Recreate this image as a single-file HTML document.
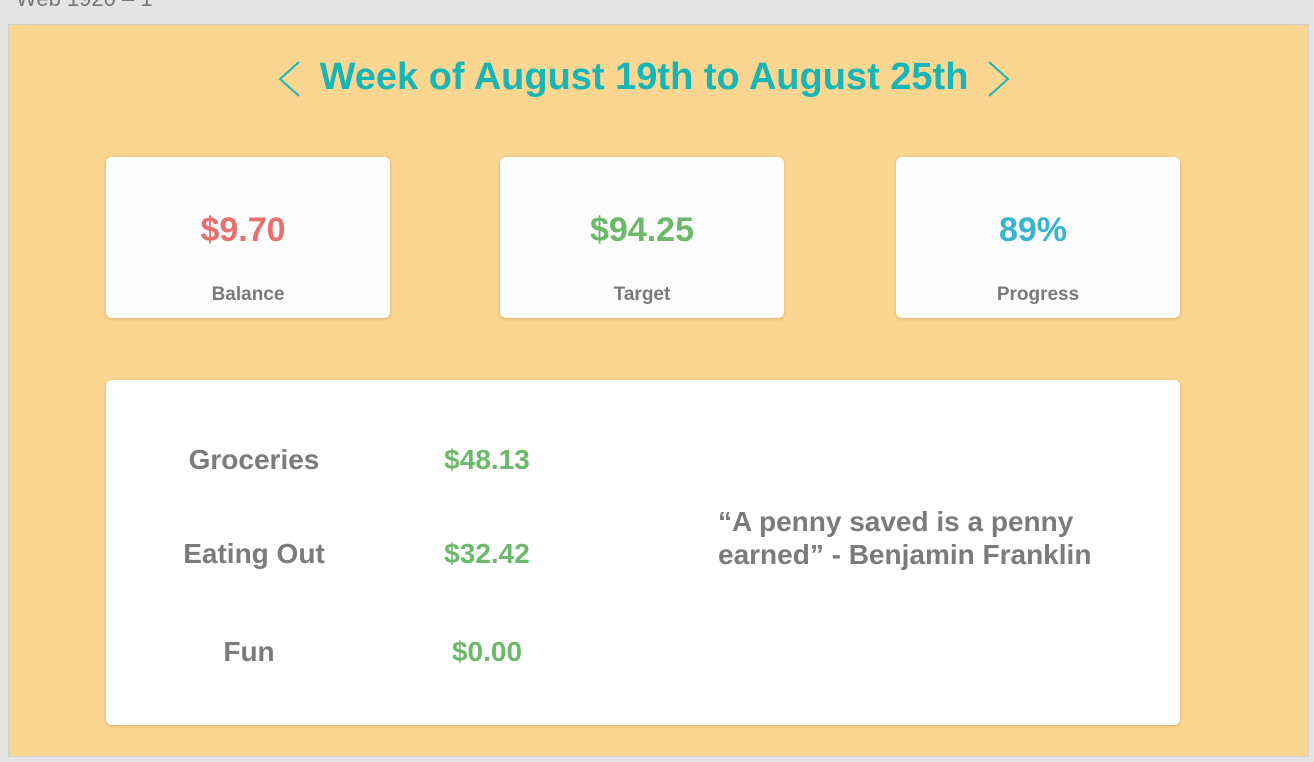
<!DOCTYPE html>
<html><head><meta charset="utf-8"><style>
body{margin:0;width:1314px;height:762px;background:#e4e4e4;font-family:"Liberation Sans",sans-serif;position:relative;overflow:hidden}
.t{position:absolute;white-space:nowrap;font-weight:bold}
#frame{position:absolute;left:8px;top:24px;width:1299px;height:731px;background:#fbd691;border:1px solid #cfcfcf}
.card{position:absolute;background:#fdfdfd;border-radius:6px;box-shadow:0 1px 3px rgba(170,130,60,.45)}
.val{position:absolute;left:0;right:0;text-align:center;font-weight:bold;font-size:34px;top:54px}
.lab{position:absolute;left:0;right:0;text-align:center;font-weight:bold;font-size:19px;color:#7a7a7a;top:127px}
.r{position:absolute;font-weight:bold;font-size:28px;color:#7b7b7b;text-align:center;width:300px;margin-left:-150px}
.g{color:#6cb96a}
</style></head><body>
<div class="t" style="left:16px;top:-14px;font-size:22px;color:#777;font-weight:normal">Web 1920 – 1</div>
<div id="frame">
<svg style="position:absolute;left:268px;top:35px" width="26" height="38"><polyline points="22,2 3,19 22,36" fill="none" stroke="#17b5b5" stroke-width="2"/></svg>
<div class="t" style="left:0;width:1270px;text-align:center;top:31px;font-size:38px;color:#17b5b5">Week of August 19th to August 25th</div>
<svg style="position:absolute;left:976px;top:35px" width="26" height="38"><polyline points="4,2 23,19 4,36" fill="none" stroke="#17b5b5" stroke-width="2"/></svg>
<div class="card" style="left:97px;top:132px;width:284px;height:161px"><div class="val" style="color:#ea6f6f;margin-left:-10px">$9.70</div><div class="lab">Balance</div></div>
<div class="card" style="left:491px;top:132px;width:284px;height:161px"><div class="val" style="color:#6cb96a">$94.25</div><div class="lab">Target</div></div>
<div class="card" style="left:887px;top:132px;width:284px;height:161px"><div class="val" style="color:#39b3d2;margin-left:-10px">89%</div><div class="lab">Progress</div></div>
<div class="card" style="left:97px;top:355px;width:1074px;height:345px;background:#fff">
<div class="r" style="left:148px;top:64px">Groceries</div>
<div class="r g" style="left:381px;top:64px">$48.13</div>
<div class="r" style="left:148px;top:158px">Eating Out</div>
<div class="r g" style="left:381px;top:158px">$32.42</div>
<div class="r" style="left:143px;top:256px">Fun</div>
<div class="r g" style="left:381px;top:256px">$0.00</div>
<div class="t" style="left:612px;top:125px;font-size:28px;color:#7b7b7b;line-height:33px">“A penny saved is a penny<br>earned” - Benjamin Franklin</div>
</div>
</div>
</body></html>
